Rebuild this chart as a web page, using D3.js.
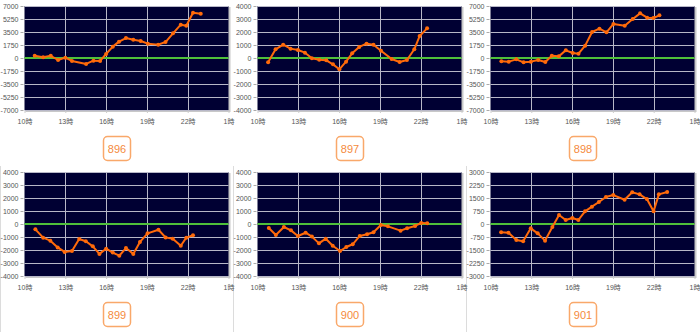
<!DOCTYPE html>
<html><head><meta charset="utf-8">
<script src="https://cdn.jsdelivr.net/npm/d3@7"></script>
<style>body{margin:0;background:#fff;}svg{display:block;}</style>
</head><body>
<svg id="c" width="700" height="332"></svg>
<script>
const labels = ["896","897","898","899","900","901"];
const xTickValues = [10,13,16,19,22,25];
const xTickLabels = ["10時","13時","16時","19時","22時","1時"];
const yTicks896 = [-7000,-5250,-3500,-1750,0,1750,3500,5250,7000];
const yTicks4000 = [-4000,-3000,-2000,-1000,0,1000,2000,3000,4000];
const yTicks901 = [-3000,-2250,-1500,-750,0,750,1500,2250,3000];

const t896 = [10.75,11.37,11.93,12.47,13.0,13.49,14.53,15.07,15.56,16.0,16.49,16.95,17.46,18.0,18.54,19.07,19.83,20.37,20.92,21.49,21.9,22.39,22.96];
const v896 = [300,100,300,-270,50,-400,-800,-360,-400,540,1530,2200,2690,2460,2290,1930,1800,2150,3320,4490,4350,6100,5970];
const t897 = [10.78,11.33,11.89,12.43,12.97,13.49,14.0,14.54,15.06,15.55,16.02,16.51,16.96,17.48,18.02,18.53,19.08,19.86,20.45,20.99,21.53,21.92,22.47];
const v897 = [-330,670,1025,720,615,410,-20,-130,-180,-490,-870,-280,360,850,1100,1025,560,-80,-310,-150,670,1690,2280];
const t898 = [10.8,11.34,11.9,12.43,12.97,13.51,14.03,14.51,15.02,15.54,16.05,16.47,16.96,17.47,18.01,18.53,19.04,19.87,20.46,21.0,21.52,21.98,22.42];
const v898 = [-450,-490,-180,-580,-490,-270,-540,310,220,1030,670,580,1660,3500,3950,3450,4580,4350,5250,6010,5430,5390,5740];
const t899 = [10.8,11.37,11.9,12.44,12.95,13.49,14.02,14.51,15.02,15.51,16.0,16.49,16.97,17.46,18.0,18.49,19.05,19.85,20.37,20.9,21.49,21.9,22.39];
const v899 = [-410,-1050,-1280,-1800,-2150,-2080,-1150,-1330,-1720,-2300,-1900,-2200,-2440,-1850,-2300,-1380,-720,-440,-1030,-1130,-1670,-1050,-870];
const t900 = [10.83,11.35,11.94,12.46,12.97,13.54,14.0,14.52,15.02,15.53,16.07,16.53,17.0,17.52,18.06,18.53,19.07,19.59,20.52,21.0,21.59,22.04,22.48];
const v900 = [-310,-850,-230,-490,-920,-670,-970,-1490,-1130,-1670,-2080,-1770,-1560,-920,-790,-640,-80,-180,-510,-330,-150,80,50];
const t901 = [10.78,11.32,11.9,12.4,12.96,13.47,14.01,14.55,15.04,15.53,16.02,16.46,16.95,17.46,17.97,18.49,19.03,19.86,20.42,20.96,21.5,21.99,22.38,22.99];
const v901 = [-480,-500,-920,-1000,-250,-540,-960,-170,520,230,350,230,730,1000,1270,1560,1670,1400,1830,1710,1440,730,1710,1850];

const panels = [
  {label:labels[0], t:t896, v:v896, ticks:yTicks896},
  {label:labels[1], t:t897, v:v897, ticks:yTicks4000},
  {label:labels[2], t:t898, v:v898, ticks:yTicks896},
  {label:labels[3], t:t899, v:v899, ticks:yTicks4000},
  {label:labels[4], t:t900, v:v900, ticks:yTicks4000},
  {label:labels[5], t:t901, v:v901, ticks:yTicks901}
];

const svg = d3.select("#c");
const PW = 233;
const rowTop = [6, 172];

// separators for bottom row
[0.5, 233.5, 466.5].forEach(x => {
  svg.append("line").attr("x1",x).attr("x2",x).attr("y1",166).attr("y2",332)
    .attr("stroke","#dcdcdc").attr("stroke-width",1);
});

panels.forEach((p,i) => {
  const col = i % 3, row = Math.floor(i/3);
  const ox = col*PW;
  const top = rowTop[row], bottom = top + 104;
  const left = ox + 24.5, right = ox + 228.5;
  const g = svg.append("g");
  const x = d3.scaleLinear().domain([10,25]).range([left,right]);
  const ext = d3.max(p.ticks);
  const y = d3.scaleLinear().domain([-ext, ext]).range([bottom, top]);

  // plot area shadow + background
  g.append("rect").attr("x",left+1).attr("y",top+1).attr("width",right-left+1).attr("height",bottom-top+1)
    .attr("fill","#c8c8c8");
  g.append("rect").attr("x",left).attr("y",top).attr("width",right-left).attr("height",bottom-top)
    .attr("fill","#000033");

  // gridlines
  g.selectAll(".hg").data(p.ticks).enter().append("line")
    .attr("x1",left).attr("x2",right).attr("y1",d=>Math.round(y(d))+0.5).attr("y2",d=>Math.round(y(d))+0.5)
    .attr("stroke","#b8b8c8").attr("stroke-width",1);
  g.selectAll(".vg").data(xTickValues.slice(1,-1)).enter().append("line")
    .attr("x1",d=>Math.round(x(d))+0.5).attr("x2",d=>Math.round(x(d))+0.5).attr("y1",top).attr("y2",bottom)
    .attr("stroke","#b8b8c8").attr("stroke-width",1);

  // y axis
  const ya = d3.axisLeft(y).tickValues(p.ticks).tickSize(3).tickPadding(2).tickFormat(d=>String(d));
  const yg = g.append("g").attr("transform",`translate(${left-1},0)`).call(ya);
  yg.select(".domain").remove();
  yg.selectAll("line").attr("stroke","#aaa");
  yg.selectAll("text").attr("font-family","Liberation Sans, Arial, sans-serif").attr("font-size",7).attr("fill","#555");

  // x axis
  const xa = d3.axisBottom(x).tickValues(xTickValues).tickSize(2).tickPadding(6).tickFormat((d,k)=>xTickLabels[k]);
  const xg = g.append("g").attr("transform",`translate(0,${bottom+1})`).call(xa);
  xg.select(".domain").remove();
  xg.selectAll("line").attr("stroke","#ccc");
  xg.selectAll("text").attr("font-family","Liberation Sans, 'Noto Sans CJK JP', sans-serif").attr("font-size",7).attr("fill","#555");

  // zero line
  g.append("line").attr("x1",left).attr("x2",right).attr("y1",y(0)).attr("y2",y(0))
    .attr("stroke","#4fc03a").attr("stroke-width",2);

  // series
  const pts = p.t.map((t,k)=>[t,p.v[k]]);
  g.append("path").datum(pts)
    .attr("d", d3.line().x(d=>x(d[0])).y(d=>y(d[1])))
    .attr("fill","none").attr("stroke","#ff6a0a").attr("stroke-width",2).attr("stroke-linejoin","round");
  g.selectAll(".pt").data(pts).enter().append("circle")
    .attr("cx",d=>x(d[0])).attr("cy",d=>y(d[1])).attr("r",2).attr("fill","#ff6a0a");

  // label box
  const bx = ox + 103.5, by = bottom + 26.5;
  g.append("rect").attr("x",bx).attr("y",by).attr("width",27).attr("height",24).attr("rx",4)
    .attr("fill","#fff").attr("stroke","#f9a86a").attr("stroke-width",1.5);
  g.append("text").attr("x",bx+13.5).attr("y",by+12).attr("text-anchor","middle").attr("dominant-baseline","central")
    .attr("font-family","Liberation Sans, Arial, sans-serif").attr("font-size",11).attr("fill","#f58a3c").text(p.label);
});
</script>
</body></html>
